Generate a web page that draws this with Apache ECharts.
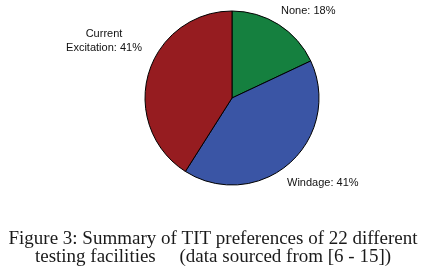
<!DOCTYPE html>
<html>
<head>
<meta charset="utf-8">
<script src="https://cdn.jsdelivr.net/npm/echarts@6/dist/echarts.min.js"></script>
<style>
  html, body { margin: 0; padding: 0; background: #fff; }
  #chart { width: 428px; height: 269px; }
</style>
</head>
<body>
<div id="chart"></div>
<script>
// TIT preferences (share of facilities, %)
var categories = ['None', 'Windage', 'Current\nExcitation'];
var shares = [18, 41, 41];
var colors = ['#15803f', '#3a55a5', '#961c20'];

// where each label sits (Excel-style manual placement)
var labelSpots = [
  { x: 281, y: 11, align: 'left', verticalAlign: 'middle' },
  { x: 287, y: 183, align: 'left', verticalAlign: 'middle' },
  { x: 104, y: 41, align: 'center', verticalAlign: 'middle' }
];

var myChart = echarts.init(document.getElementById('chart'));
myChart.setOption({
  animation: false,
  backgroundColor: '#fff',
  title: {
    text: 'Figure 3: Summary of TIT preferences of 22 different\ntesting facilities     (data sourced from [6 - 15])',
    left: 208,
    top: 225,
    textAlign: 'center',
    textStyle: {
      fontFamily: 'Liberation Serif',
      fontWeight: 'normal',
      fontSize: 19,
      lineHeight: 18,
      color: '#1a1a1a'
    }
  },
  series: [{
    type: 'pie',
    center: [232, 98],
    radius: 87,
    startAngle: 90,
    clockwise: true,
    data: categories.map(function (c, i) {
      return { name: c, value: shares[i], itemStyle: { color: colors[i] } };
    }),
    itemStyle: { borderColor: '#000', borderWidth: 1 },
    emphasis: { disabled: true },
    label: {
      show: true,
      formatter: function (p) { return p.name + ': ' + p.value + '%'; },
      fontFamily: 'Liberation Sans',
      fontSize: 11,
      lineHeight: 14,
      color: '#111',
      align: 'center'
    },
    labelLine: { show: false },
    labelLayout: function (params) {
      return labelSpots[params.dataIndex];
    }
  }]
});
</script>
</body>
</html>
